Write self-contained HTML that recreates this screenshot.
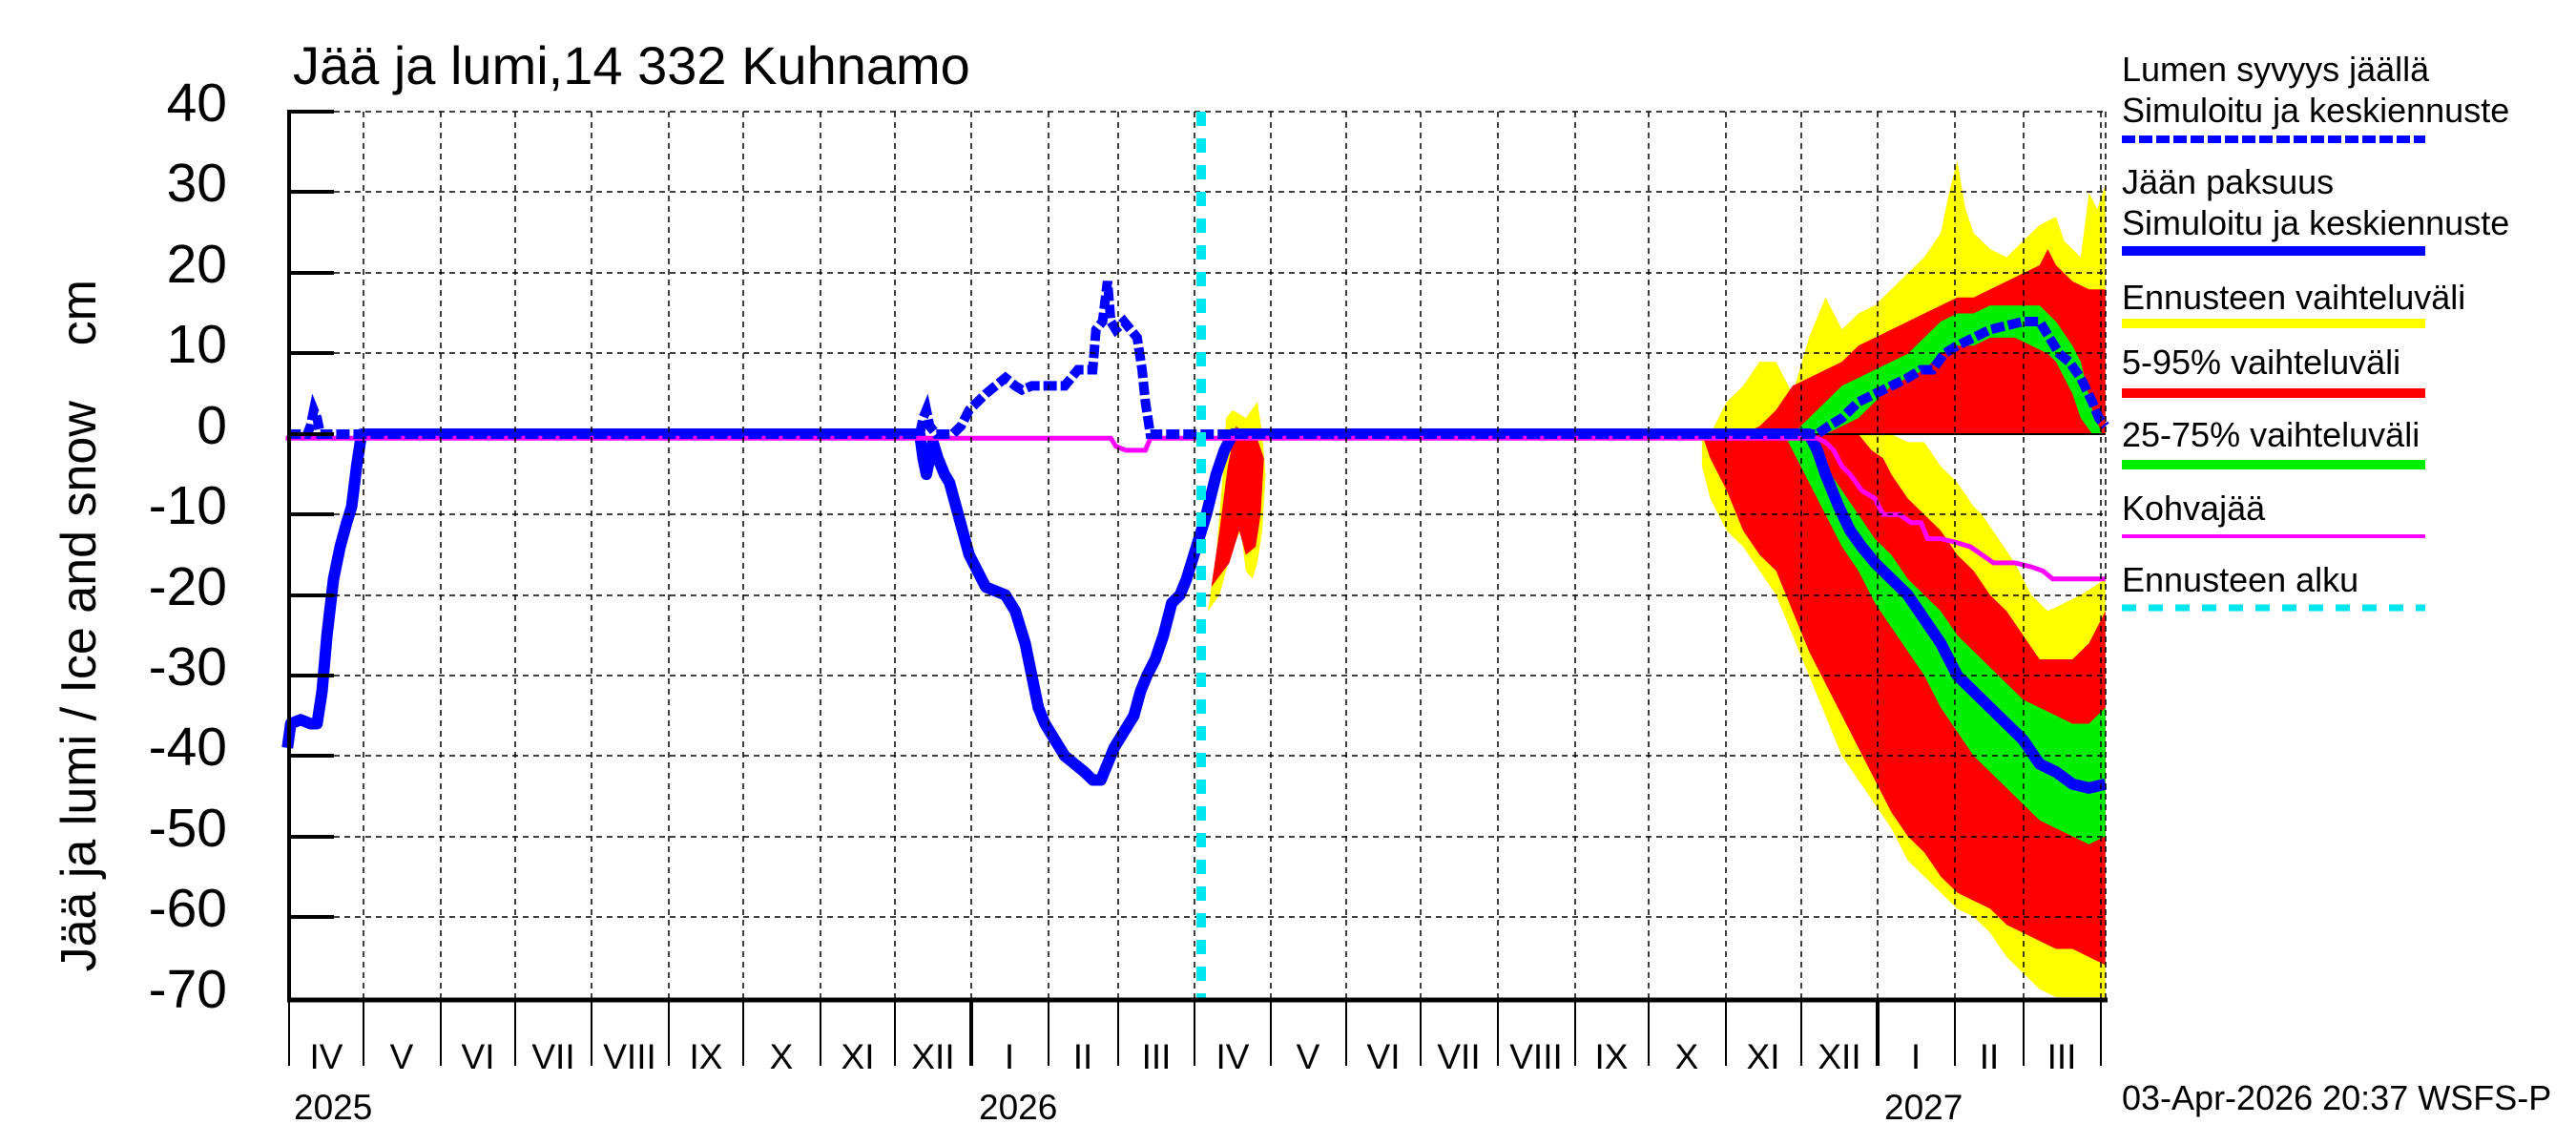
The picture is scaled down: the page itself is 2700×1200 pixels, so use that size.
<!DOCTYPE html>
<html><head><meta charset="utf-8"><style>
html,body{margin:0;padding:0;background:#fff;}
svg{display:block;font-family:"Liberation Sans",sans-serif;}
</style></head><body>
<svg width="2700" height="1200" viewBox="0 0 2700 1200" xmlns="http://www.w3.org/2000/svg">
<rect width="2700" height="1200" fill="#fff"/>
<g transform="matrix(1.726 0 0 -8.43 -2.5 455)">
 <polygon fill="#ffff00" points="1040,0 1045,2 1050,4 1060,6 1070,9 1080,9 1090,5 1100,12 1110,17 1120,13 1130,15 1140,16 1150,18 1160,20 1170,22 1180,25 1185,30 1190,34 1195,28 1200,25 1210,23 1220,22 1230,24 1240,26 1250,27 1255,24 1265,22 1270,30 1275,28 1280,31 1280,0"/>
 <polygon fill="#ff0000" points="1060,0 1070,1 1080,3 1090,6 1100,7 1110,8 1120,9 1130,11 1140,12 1150,13 1160,14 1170,15 1180,16 1190,17 1200,17 1210,18 1220,19 1230,20 1240,21 1245,23 1250,21 1260,19 1270,18 1280,18 1280,0"/>
 <polygon fill="#00ee00" points="1090,0 1100,2 1110,4 1120,6 1130,7 1140,8 1150,9 1160,10 1170,12 1180,14 1190,15 1200,15 1210,16 1220,16 1230,16 1240,16 1250,14 1260,11 1265,9 1272,3 1278,0 1272,0 1265,2 1260,5 1250,9 1245,10 1235,11 1225,12 1210,12 1200,11 1190,11 1180,10 1170,8 1160,7 1150,6 1140,4 1130,2 1120,1 1110,0"/>
 <polygon fill="#ff0000" points="1150,0 1155,3 1170,6 1180,7 1190,6 1200,6 1210,7 1225,9 1230,9 1240,8 1245,6 1250,3 1255,1 1262,0"/>
 <polygon fill="#ffff00" points="1035,0 1150,0 1160,-1 1170,-1 1180,-4 1190,-6 1200,-9 1205,-10 1215,-13 1225,-16 1235,-20 1245,-22 1255,-21 1265,-20 1280,-18 1280,-70 1250,-70 1240,-69 1230,-67 1220,-65 1210,-62 1200,-60 1190,-59 1180,-57 1170,-55 1160,-53 1150,-49 1140,-46 1130,-43 1120,-40 1110,-35 1100,-30 1090,-25 1080,-20 1070,-17 1060,-14 1050,-12 1040,-8 1035,-4"/>
 <polygon fill="#ff0000" points="1035,0 1130,0 1138,-2 1145,-3 1150,-5 1160,-8 1170,-10 1180,-12 1190,-15 1200,-17 1210,-20 1220,-22 1230,-25 1240,-28 1250,-28 1260,-28 1270,-26 1280,-22 1280,-66 1270,-65 1260,-64 1250,-64 1240,-63 1230,-62 1220,-61 1210,-59 1200,-58 1190,-57 1180,-55 1170,-52 1160,-50 1150,-47 1140,-43 1130,-39 1120,-35 1110,-31 1100,-27 1090,-22 1080,-17 1070,-15 1060,-12 1050,-7 1040,-3"/>
 <polygon fill="#00ee00" points="1085,0 1095,0 1110,-4 1120,-7 1130,-10 1140,-13 1150,-15 1160,-18 1170,-20 1180,-22 1190,-25 1200,-27 1210,-29 1220,-31 1230,-33 1240,-34 1250,-35 1260,-36 1270,-36 1280,-34 1280,-50 1270,-51 1260,-50 1250,-49 1240,-48 1230,-46 1220,-44 1210,-42 1200,-40 1190,-37 1180,-34 1170,-30 1160,-27 1150,-24 1140,-21 1130,-17 1120,-14 1110,-10 1100,-6 1090,-2"/>
 <polygon fill="#ffff00" points="735,-22 740,-15 744,-5 746,2 750,3 758,2 765,4 768,0 770,-5 768,-12 765,-16 762,-18 758,-17 755,-12 750,-14 742,-20"/>
 <polygon fill="#ff0000" points="737,-19 742,-12 747,-4 752,1 758,0 764,0 769,-3 767,-10 764,-14 758,-15 754,-12 748,-16"/>
 <polyline fill="none" stroke="#000" stroke-width="2" vector-effect="non-scaling-stroke" points="1100,0 1280,0"/>
 <polyline fill="none" stroke="#0000ff" stroke-width="12" stroke-linejoin="round" vector-effect="non-scaling-stroke" points="176,-39 178,-36 184,-35.5 190,-36 194,-36 197,-32 200,-25 204,-18 208,-14 212,-11 215,-9 218,-4 221,0 560,0 562,-3 564,-5 566,-3 568,-1 571,-3 575,-5 578,-6 582,-9 586,-12 590,-15 595,-17 600,-19 606,-19.5 612,-20 618,-22 624,-26 628,-30 632,-34 636,-36 642,-38 648,-40 654,-41 660,-42 665,-43 670,-43 674,-41 678,-39 684,-37 690,-35 694,-32 698,-30 703,-28 708,-25 713,-21 718,-20 722,-18 728,-14 734,-10 740,-5 745,-2 750,0 1100,0 1105,-2 1110,-5 1118,-9 1125,-12 1132,-14 1140,-16 1150,-18 1160,-20 1170,-23 1180,-26 1190,-30 1200,-32 1210,-34 1220,-36 1230,-38 1240,-41 1250,-42 1260,-43.5 1270,-44 1280,-43.5"/>
 <polyline fill="none" stroke="#ff00ff" stroke-width="5" vector-effect="non-scaling-stroke" points="175,-0.5 676,-0.5 679,-1.5 685,-2 697,-2 700,-0.5 1105,-0.5 1110,-1 1115,-2 1120,-4 1125,-5 1132,-7 1140,-8 1145,-10 1155,-10 1162,-11 1168,-11 1172,-13 1180,-13 1190,-13.5 1198,-14 1205,-15 1212,-16 1225,-16 1235,-16.5 1242,-17 1248,-18 1280,-18"/>
 <polyline fill="none" stroke="#0000ff" stroke-width="10" stroke-dasharray="14 4" vector-effect="non-scaling-stroke" points="176,0 188,0 190,1 192,3 194,2 196,0 560,0 562,2 564,3 566,1 570,0 580,0 585,1 590,3 595,4 600,5 606,6 612,7 618,6 622,5.5 628,6 640,6 648,6 652,7 656,8 662,8 665,8 667,13 671,14 674,19 676,14 679,13 684,14 688,13 692,12 695,8 697,4 700,0 1105,0 1112,1 1120,2 1130,4 1140,5 1150,6 1160,7 1168,8 1175,8 1182,10 1190,11 1200,12 1210,13 1220,13.5 1230,14 1240,14 1246,12 1252,10 1258,9 1265,7 1272,4 1276,2 1280,1"/>
</g>
<g stroke="#000" stroke-width="1.5" stroke-dasharray="6 5" fill="none">
 <line x1="350" y1="117" x2="2207" y2="117"/>
 <line x1="350" y1="201" x2="2207" y2="201"/>
 <line x1="350" y1="286" x2="2207" y2="286"/>
 <line x1="350" y1="370" x2="2207" y2="370"/>
 <line x1="350" y1="539" x2="2207" y2="539"/>
 <line x1="350" y1="624" x2="2207" y2="624"/>
 <line x1="350" y1="708" x2="2207" y2="708"/>
 <line x1="350" y1="792" x2="2207" y2="792"/>
 <line x1="350" y1="877" x2="2207" y2="877"/>
 <line x1="350" y1="961" x2="2207" y2="961"/>
 <path d="M381 117V1048M462 117V1048M540 117V1048M620 117V1048M701 117V1048M779 117V1048M860 117V1048M938 117V1048M1018 117V1048M1099 117V1048M1172 117V1048M1252 117V1048M1332 117V1048M1411 117V1048M1489 117V1048M1570 117V1048M1651 117V1048M1728 117V1048M1809 117V1048M1888 117V1048M1968 117V1048M2049 117V1048M2121 117V1048M2202 117V1048M2207 117V1048"/>
</g>
<line x1="1259" y1="117" x2="1259" y2="1048" stroke="#00e5ee" stroke-width="10" stroke-dasharray="15 13"/>
<g stroke="#000" fill="none">
 <line x1="303" y1="115" x2="303" y2="1050" stroke-width="4"/>
 <line x1="301" y1="1048" x2="2209" y2="1048" stroke-width="5"/>
 <path stroke-width="4" d="M303 117H350M303 201H350M303 286H350M303 370H350M303 455H350M303 539H350M303 624H350M303 708H350M303 792H350M303 877H350M303 961H350"/>
 <path stroke-width="2" d="M303 1048V1117M381 1048V1117M462 1048V1117M540 1048V1117M620 1048V1117M701 1048V1117M779 1048V1117M860 1048V1117M938 1048V1117M1099 1048V1117M1172 1048V1117M1252 1048V1117M1332 1048V1117M1411 1048V1117M1489 1048V1117M1570 1048V1117M1651 1048V1117M1728 1048V1117M1809 1048V1117M1888 1048V1117M2049 1048V1117M2121 1048V1117M2202 1048V1117"/>
 <path stroke-width="4" d="M1018 1048V1117M1968 1048V1117"/>
</g>
<g font-size="57" text-anchor="end" fill="#000">
 <text x="238" y="127">40</text><text x="238" y="211">30</text><text x="238" y="296">20</text><text x="238" y="380">10</text><text x="238" y="465">0</text>
 <text x="238" y="549">-10</text><text x="238" y="634">-20</text><text x="238" y="718">-30</text><text x="238" y="802">-40</text><text x="238" y="887">-50</text><text x="238" y="971">-60</text><text x="238" y="1056">-70</text>
</g>
<text transform="translate(100,293) rotate(-90)" font-size="52" text-anchor="end" xml:space="preserve">Jää ja lumi / Ice and snow    cm</text>
<text x="307" y="88" font-size="56">Jää ja lumi,14 332 Kuhnamo</text>
<g font-size="37" text-anchor="middle">
 <text x="342" y="1120">IV</text><text x="421" y="1120">V</text><text x="501" y="1120">VI</text><text x="580" y="1120">VII</text><text x="660" y="1120">VIII</text><text x="740" y="1120">IX</text><text x="819" y="1120">X</text><text x="899" y="1120">XI</text><text x="978" y="1120">XII</text><text x="1058" y="1120">I</text><text x="1135" y="1120">II</text><text x="1212" y="1120">III</text>
 <text x="1292" y="1120">IV</text><text x="1371" y="1120">V</text><text x="1450" y="1120">VI</text><text x="1529" y="1120">VII</text><text x="1610" y="1120">VIII</text><text x="1689" y="1120">IX</text><text x="1768" y="1120">X</text><text x="1848" y="1120">XI</text><text x="1928" y="1120">XII</text><text x="2008" y="1120">I</text><text x="2085" y="1120">II</text><text x="2161" y="1120">III</text>
</g>
<g font-size="37"><text x="308" y="1173">2025</text><text x="1026" y="1173">2026</text><text x="1975" y="1173">2027</text></g>
<g font-size="36">
 <text x="2224" y="85">Lumen syvyys jäällä</text>
 <text x="2224" y="128">Simuloitu ja keskiennuste</text>
 <text x="2224" y="203">Jään paksuus</text>
 <text x="2224" y="246">Simuloitu ja keskiennuste</text>
 <text x="2224" y="324">Ennusteen vaihteluväli</text>
 <text x="2224" y="392">5-95% vaihteluväli</text>
 <text x="2224" y="468">25-75% vaihteluväli</text>
 <text x="2224" y="545">Kohvajää</text>
 <text x="2224" y="620">Ennusteen alku</text>
 <text x="2224" y="1163">03-Apr-2026 20:37 WSFS-P</text>
</g>
<line x1="2224" y1="146" x2="2542" y2="146" stroke="#0000ff" stroke-width="8" stroke-dasharray="14 4"/>
<line x1="2224" y1="263" x2="2542" y2="263" stroke="#0000ff" stroke-width="10"/>
<line x1="2224" y1="339" x2="2542" y2="339" stroke="#ffff00" stroke-width="10"/>
<line x1="2224" y1="412" x2="2542" y2="412" stroke="#ff0000" stroke-width="10"/>
<line x1="2224" y1="487" x2="2542" y2="487" stroke="#00ee00" stroke-width="10"/>
<line x1="2224" y1="562" x2="2542" y2="562" stroke="#ff00ff" stroke-width="4"/>
<line x1="2224" y1="637" x2="2542" y2="637" stroke="#00e5ee" stroke-width="7" stroke-dasharray="15 13"/>
</svg>
</body></html>
